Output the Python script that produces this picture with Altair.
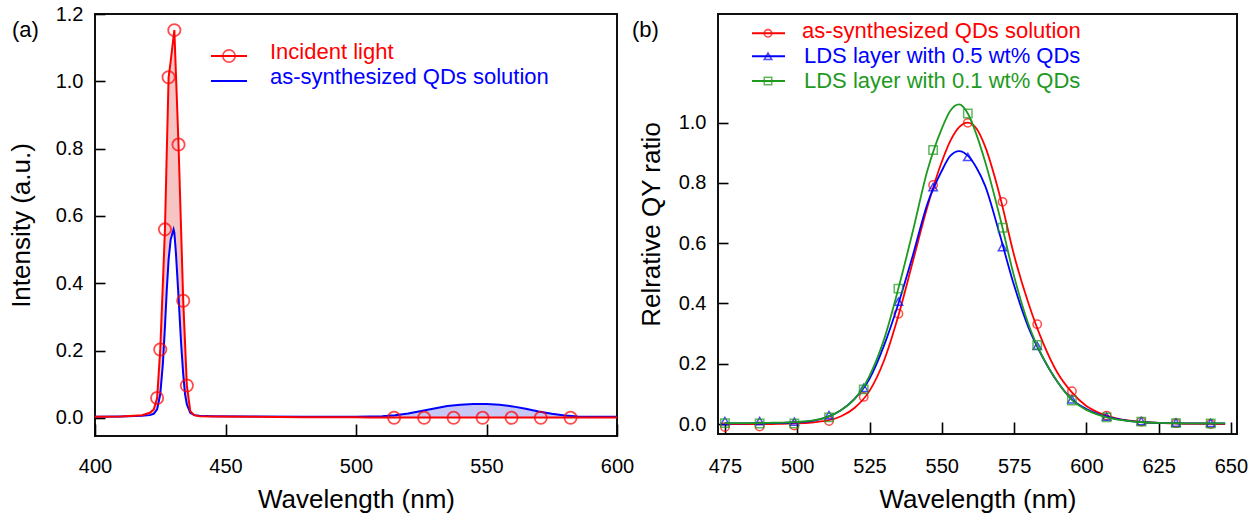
import altair as alt
import pandas as pd

FONT = "Liberation Sans"

# ---------------- Panel (a) data ----------------
a_wl = [400, 410, 418, 421, 422.5, 423.8, 425.0, 426.0, 426.8, 427.5, 428.2, 429.0, 430.1, 430.4,
        431.0, 432.0, 433.0, 433.8, 434.5, 435.2, 436.5, 438, 440, 445, 460, 480, 500, 505, 510,
        515, 520, 525, 530, 535, 540, 545, 548, 550, 555, 560, 565, 570, 575, 580, 585, 590, 595, 600]
a_incident = [0.003, 0.004, 0.008, 0.015, 0.025, 0.059, 0.203, 0.40, 0.56, 0.79, 1.012, 1.06, 1.133, 1.152,
              1.024, 0.812, 0.555, 0.348, 0.222, 0.096, 0.02, 0.008, 0.005, 0.004, 0.003, 0.002, 0.002, 0.001, 0.001,
              0.001, 0.001, 0.001, 0.001, 0.001, 0.001, 0.001, 0.001, 0.001, 0.001, 0.001, 0.001, 0.001, 0.001, 0.001, 0.001, 0.001, 0.001, 0.001]
a_qds = [0.003, 0.004, 0.006, 0.008, 0.012, 0.025, 0.07, 0.16, 0.27, 0.38, 0.47, 0.53, 0.56, 0.55,
         0.49, 0.36, 0.22, 0.13, 0.07, 0.04, 0.015, 0.008, 0.006, 0.005, 0.004, 0.003, 0.003, 0.004, 0.005,
         0.008, 0.013, 0.02, 0.028, 0.035, 0.039, 0.041, 0.041, 0.041, 0.039, 0.034, 0.027, 0.019, 0.012, 0.007, 0.004, 0.003, 0.003, 0.003]
a_mark_wl = [423.8, 425.0, 426.8, 428.2, 430.4, 432.0, 433.8, 435.2, 514.6, 526.1, 537.4, 548.5, 559.6, 570.8, 582.2]
a_mark_val = [0.059, 0.203, 0.56, 1.012, 1.152, 0.812, 0.348, 0.096, 0, 0, 0, 0, 0, 0, 0]
a_xticks = [400, 450, 500, 550, 600]
a_yticks = [0.0, 0.2, 0.4, 0.6, 0.8, 1.0, 1.2]
a_names = ["Incident light", "as-synthesized QDs solution"]

# ---------------- Panel (b) data ----------------
b_wl = [475, 480, 485, 490, 495, 500, 505, 510, 515, 520, 525, 530, 535, 540, 545, 550, 553, 556, 559,
        562, 565, 570, 575, 580, 585, 590, 595, 600, 605, 610, 615, 620, 625, 630, 635, 640, 645, 648]
b_sol = [0.0, 0.0, 0.0, 0.0, 0.001, 0.002, 0.005, 0.011, 0.025, 0.055, 0.11, 0.21, 0.36, 0.54, 0.72, 0.87, 0.94, 0.985, 1.0,
         0.98, 0.92, 0.76, 0.56, 0.40, 0.27, 0.17, 0.105, 0.06, 0.035, 0.02, 0.011, 0.006, 0.004, 0.002, 0.001, 0.001, 0.0, 0.0]
b_05 = [0.002, 0.002, 0.003, 0.003, 0.004, 0.006, 0.01, 0.022, 0.045, 0.085, 0.15, 0.26, 0.40, 0.56, 0.73, 0.84, 0.89, 0.905, 0.89,
        0.85, 0.79, 0.63, 0.46, 0.32, 0.22, 0.14, 0.082, 0.05, 0.03, 0.018, 0.01, 0.006, 0.004, 0.003, 0.002, 0.002, 0.002, 0.002]
b_01 = [0.003, 0.003, 0.003, 0.004, 0.005, 0.007, 0.011, 0.022, 0.045, 0.085, 0.16, 0.28, 0.45, 0.64, 0.84, 0.98, 1.04, 1.06, 1.03,
        0.96, 0.87, 0.69, 0.49, 0.33, 0.22, 0.14, 0.08, 0.047, 0.028, 0.016, 0.01, 0.006, 0.004, 0.003, 0.002, 0.002, 0.002, 0.002]
b_mark_wl = [475, 487, 499, 511, 523, 535, 547, 559, 571, 583, 595, 607, 619, 631, 643]
b_mark_sol = [-0.01, -0.008, -0.005, 0.01, 0.09, 0.366, 0.793, 0.999, 0.737, 0.331, 0.109, 0.028, 0.008, 0.003, 0.0]
b_mark_05 = [0.01, 0.01, 0.008, 0.03, 0.12, 0.406, 0.786, 0.886, 0.587, 0.259, 0.082, 0.025, 0.01, 0.005, 0.004]
b_mark_01 = [0.003, 0.002, 0.002, 0.022, 0.115, 0.449, 0.909, 1.03, 0.651, 0.262, 0.078, 0.022, 0.008, 0.003, 0.002]
b_xticks = [475, 500, 525, 550, 575, 600, 625, 650]
b_yticks = [0.0, 0.2, 0.4, 0.6, 0.8, 1.0]
b_names = ["as-synthesized QDs solution", "LDS layer with 0.5 wt% QDs", "LDS layer with 0.1 wt% QDs"]

RED, BLUE, GREEN = "#FF0000", "#0000FF", "#1E9A1E"
b_colors = [RED, BLUE, GREEN]
b_shapes = ["circle", "triangle-up", "square"]

LABEL_SIZE = 20
TITLE_SIZE = 26
LEG_SIZE = 22

AXIS_STYLE = dict(labelFont=FONT, titleFont=FONT, labelFontSize=LABEL_SIZE, titleFontSize=TITLE_SIZE,
                  labelColor="black", titleColor="black", tickColor="black", tickWidth=1.6,
                  titleFontWeight="normal", domain=False, grid=False, ticks=True, labelFlush=False)

# ---------------- Panel (a) ----------------
df_a = pd.DataFrame({"wl": a_wl, "red": a_incident, "blue": a_qds})
df_am = pd.DataFrame({"wl": a_mark_wl, "red": a_mark_val})

xa = alt.X("wl:Q", scale=alt.Scale(domain=[400, 600], nice=False, zero=False),
           axis=alt.Axis(values=a_xticks, format="d", title="Wavelength (nm)", offset=-12, tickSize=12,
                         labelPadding=20, titlePadding=10, **AXIS_STYLE))


def ya(field):
    return alt.Y(field + ":Q", scale=alt.Scale(domain=[-0.054, 1.2], nice=False, zero=False),
                 axis=alt.Axis(values=a_yticks, format=".1f", title="Intensity (a.u.)", offset=-10, tickSize=10,
                               labelPadding=12, titlePadding=21, **AXIS_STYLE))


base_a = alt.Chart(df_a).transform_calculate(lo="min(datum.red, datum.blue)")
pink = base_a.mark_area(color="#F7C4C4", opacity=1).encode(x=xa, y=ya("red"), y2="lo:Q")
lblue = base_a.mark_area(color="#C8C8F6", opacity=1).encode(x=xa, y=ya("blue"), y2="lo:Q")
line_blue = base_a.mark_line(color=BLUE, strokeWidth=2).encode(x=xa, y=ya("blue"))
line_red = base_a.mark_line(color=RED, strokeWidth=2).encode(x=xa, y=ya("red"))
pts_red = alt.Chart(df_am).mark_point(shape="circle", filled=False, color=RED, size=150, strokeWidth=1.8).encode(
    x=xa, y=ya("red"))

one = pd.DataFrame({"k": [0]})


def leg_entry(x1, x2, y, color, label, tx, ty, shape=None, msize=100, mx=None):
    layers = [alt.Chart(one).mark_rule(color=color, strokeWidth=2).encode(
        x=alt.value(x1), x2=alt.value(x2), y=alt.value(y))]
    if shape is not None:
        layers.append(alt.Chart(one).mark_point(shape=shape, filled=False, color=color, size=msize,
                                                strokeWidth=1.6).encode(x=alt.value(mx), y=alt.value(y)))
    layers.append(alt.Chart(pd.DataFrame({"t": [label]})).mark_text(
        align="left", baseline="alphabetic", font=FONT, fontSize=LEG_SIZE, color=color).encode(
        x=alt.value(tx), y=alt.value(ty), text="t:N"))
    return layers


leg_a = leg_entry(116, 152, 42, RED, a_names[0], 175, 45, shape="circle", msize=150, mx=134) + \
    leg_entry(116, 152, 67, BLUE, a_names[1], 175, 70)

tag_a = alt.Chart(pd.DataFrame({"t": ["(a)"]})).mark_text(
    align="left", baseline="middle", font=FONT, fontSize=22, color="black").encode(
    x=alt.value(-83), y=alt.value(16), text="t:N")

panel_a = alt.layer(pink, lblue, line_blue, line_red, pts_red, *leg_a, tag_a).properties(width=522, height=422)

# ---------------- Panel (b) ----------------
xb = alt.X("wl:Q", scale=alt.Scale(domain=[472.6, 652.1], nice=False, zero=False),
           axis=alt.Axis(values=b_xticks, format="d", title="Wavelength (nm)", offset=-12, tickSize=12,
                         labelPadding=22, titlePadding=10, **AXIS_STYLE))
yb = alt.Y("val:Q", scale=alt.Scale(domain=[-0.033, 1.36], nice=False, zero=False),
           axis=alt.Axis(values=b_yticks, format=".1f", title="Relrative QY ratio", offset=-10, tickSize=10,
                         labelPadding=12, titlePadding=14, **AXIS_STYLE))

b_layers = []
for name, curve, marks, col, shp in zip(b_names, [b_sol, b_05, b_01], [b_mark_sol, b_mark_05, b_mark_01],
                                        b_colors, b_shapes):
    dfc = pd.DataFrame({"wl": b_wl, "val": curve})
    dfm = pd.DataFrame({"wl": b_mark_wl, "val": marks})
    b_layers.append(alt.Chart(dfc).mark_line(color=col, strokeWidth=1.8, interpolate="monotone").encode(x=xb, y=yb))
    b_layers.append(alt.Chart(dfm).mark_point(shape=shp, filled=False, color=col, size=70, strokeWidth=1.5).encode(
        x=xb, y=yb))

leg_b = []
for name, col, shp, ly, ty, tx in zip(b_names, b_colors, b_shapes, [19.3, 42.3, 67], [24, 49, 74], [84, 86, 86]):
    leg_b += leg_entry(34, 67, ly, col, name, tx, ty, shape=shp, msize=55, mx=50)

tag_b = alt.Chart(pd.DataFrame({"t": ["(b)"]})).mark_text(
    align="left", baseline="middle", font=FONT, fontSize=22, color="black").encode(
    x=alt.value(-86), y=alt.value(16), text="t:N")

panel_b = alt.layer(*b_layers, *leg_b, tag_b).properties(width=519, height=420)

chart = alt.hconcat(panel_a, panel_b, spacing=101, bounds="flush").properties(
    padding={"left": 7, "top": 3, "right": 5, "bottom": 5},
    background="white"
).configure_view(stroke="#111111", strokeWidth=2)

chart.save("out.html", embed_options={"renderer": "svg", "actions": False})
